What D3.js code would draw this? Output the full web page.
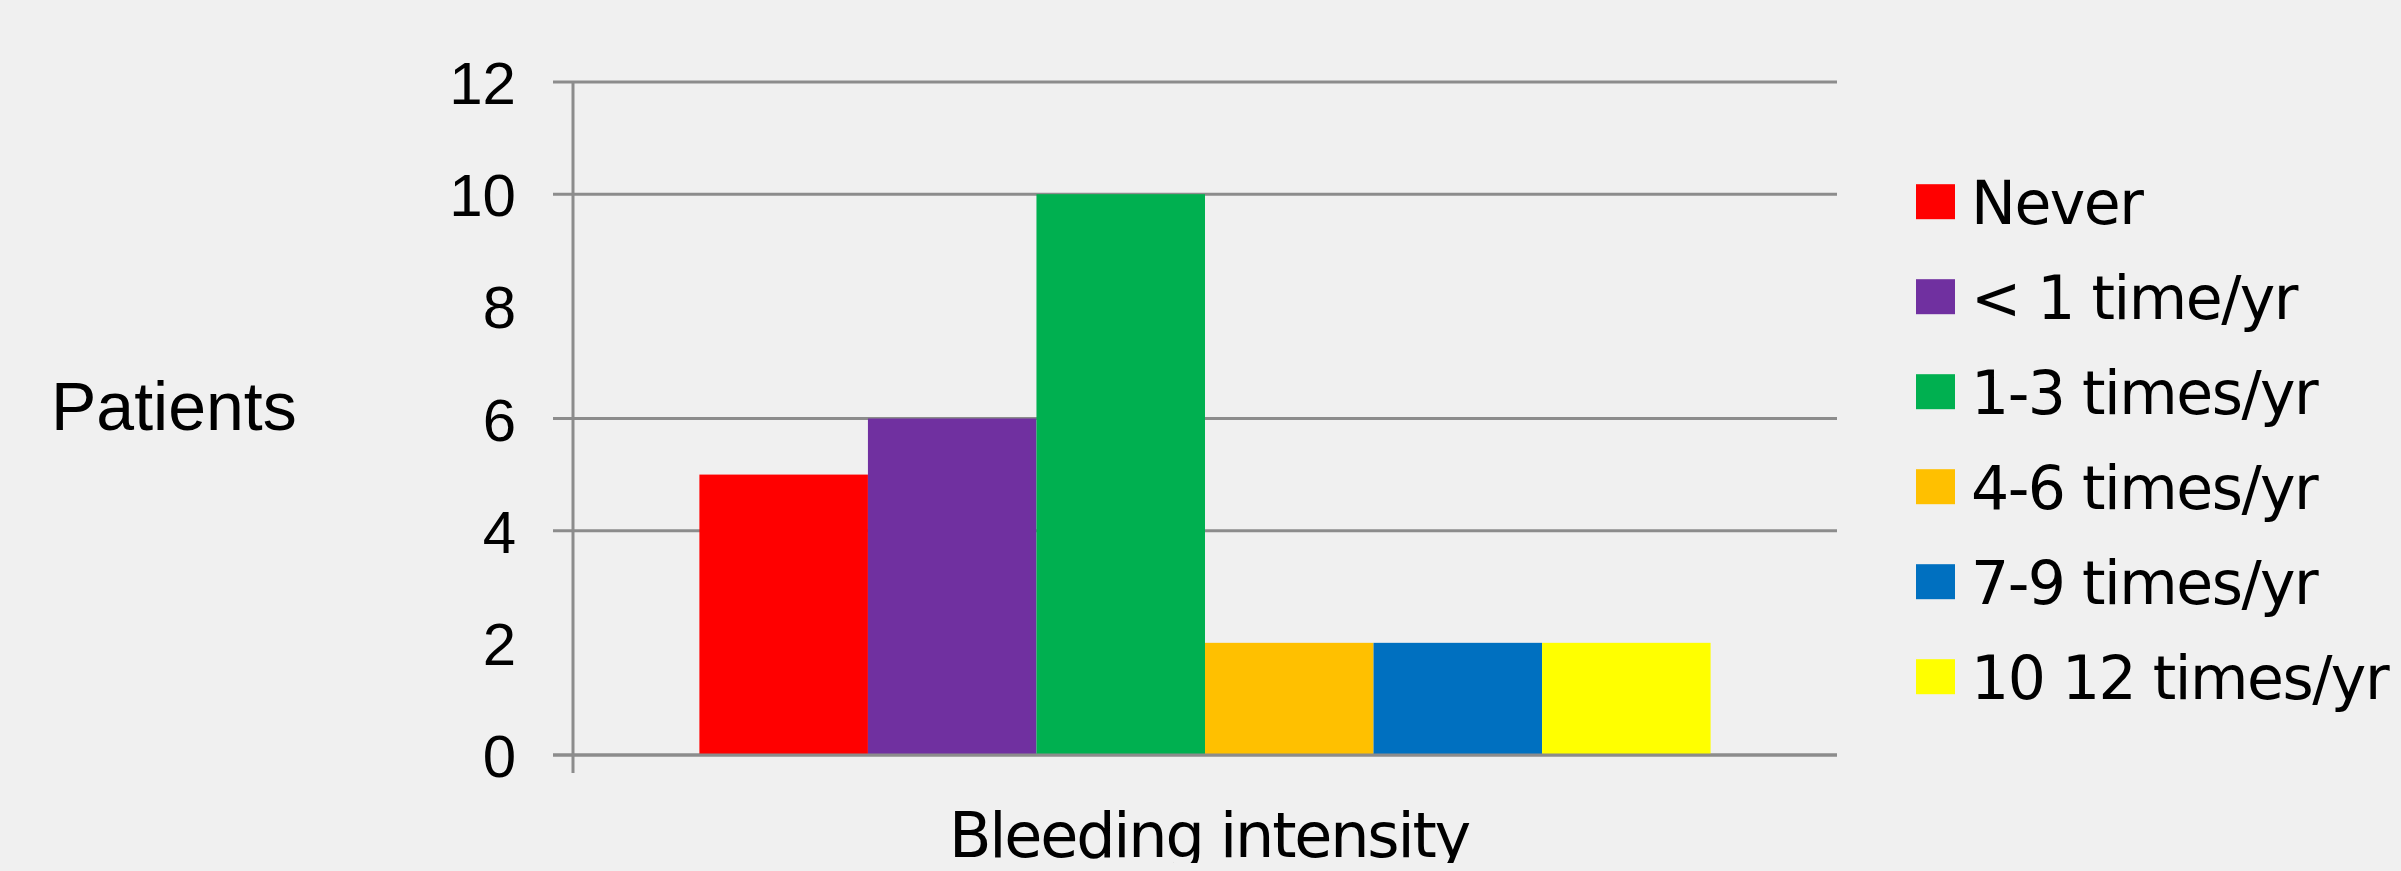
<!DOCTYPE html>
<html>
<head>
<meta charset="utf-8">
<script src="https://cdn.jsdelivr.net/npm/d3@7"></script>
<style>
  html, body { margin: 0; padding: 0; background: #f0f0f0; overflow: hidden; }
  svg { display: block; }
</style>
</head>
<body>
<div id="chart"></div>
<script>
// Bleeding intensity: number of patients per bleeding frequency
const groups = ["Bleeding intensity"];
const seriesNames = ["Never", "< 1 time/yr", "1-3 times/yr", "4-6 times/yr", "7-9 times/yr", "10 12 times/yr"];
const patients = [5, 6, 10, 2, 2, 2];
const seriesColors = ["#ff0000", "#7030a0", "#00b050", "#ffc000", "#0070c0", "#ffff00"];
const yTicks = [0, 2, 4, 6, 8, 10, 12];
const gridValues = [0, 4, 6, 10, 12];
const yTitle = "Patients";

const W = 2401, H = 871;
const plot = { left: 573, right: 1837, top: 82, bottom: 755 };
const gridColor = "#8c8c8c";

const svg = d3.select("#chart").append("svg")
  .attr("width", W).attr("height", H);

svg.append("rect").attr("width", W).attr("height", H).attr("fill", "#f0f0f0");

// the category label is cut at the lower edge of the frame
svg.append("defs").append("clipPath").attr("id", "title-clip")
  .append("rect").attr("x", 0).attr("y", 0).attr("width", W).attr("height", 863);

const y = d3.scaleLinear().domain([0, 12]).range([plot.bottom, plot.top]);

const x0 = d3.scaleBand().domain(groups)
  .range([plot.left, plot.right])
  .paddingInner(0).paddingOuter(0.125);

const x1 = d3.scaleBand().domain(seriesNames)
  .range([0, x0.bandwidth()]).padding(0);

// horizontal gridlines (extend left of the axis as ticks)
svg.append("g").selectAll("line").data(gridValues).join("line")
  .attr("x1", plot.left - 20).attr("x2", plot.right)
  .attr("y1", d => y(d)).attr("y2", d => y(d))
  .attr("stroke", gridColor).attr("stroke-width", 3);

// bars
const barData = seriesNames.map((s, i) => ({ group: groups[0], series: s, value: patients[i], color: seriesColors[i] }));
svg.append("g").selectAll("rect").data(barData).join("rect")
  .attr("x", d => x0(d.group) + x1(d.series))
  .attr("width", x1.bandwidth())
  .attr("y", d => y(d.value))
  .attr("height", d => y(0) - y(d.value))
  .attr("fill", d => d.color);

// baseline over bars
svg.append("line")
  .attr("x1", plot.left - 20).attr("x2", plot.right)
  .attr("y1", y(0)).attr("y2", y(0))
  .attr("stroke", gridColor).attr("stroke-width", 3);

// y axis line
svg.append("line")
  .attr("x1", plot.left).attr("x2", plot.left)
  .attr("y1", y(12)).attr("y2", y(0) + 18)
  .attr("stroke", gridColor).attr("stroke-width", 3);

// y tick labels
const yAxis = d3.axisLeft(y).tickValues(yTicks).tickSize(0).tickPadding(57);
const gy = svg.append("g").attr("transform", `translate(${plot.left},0)`).call(yAxis);
gy.select(".domain").remove();
gy.selectAll("text")
  .attr("font-family", "'Liberation Sans', Arial, sans-serif")
  .attr("font-size", 60)
  .attr("fill", "#000")
  .attr("dy", "0.36em");

// y axis title
svg.append("text")
  .attr("x", 51).attr("y", 430)
  .attr("font-family", "'Liberation Sans', Arial, sans-serif")
  .attr("font-size", 68)
  .attr("fill", "#000")
  .text(yTitle);

// x axis category label
svg.append("text")
  .attr("x", x0(groups[0]) + x0.bandwidth() / 2 + 4)
  .attr("y", 857)
  .attr("text-anchor", "middle")
  .attr("clip-path", "url(#title-clip)")
  .attr("font-family", "'DejaVu Sans', sans-serif")
  .attr("font-size", 62)
  .attr("letter-spacing", -2.2)
  .attr("fill", "#000")
  .text(groups[0]);

// legend
const legend = svg.append("g").attr("transform", "translate(1916,0)");
const rows = legend.selectAll("g").data(barData).join("g")
  .attr("transform", (d, i) => `translate(0,${201.7 + i * 95})`);
rows.append("rect")
  .attr("x", 0).attr("y", -17.5).attr("width", 39).attr("height", 35)
  .attr("fill", d => d.color);
rows.append("text")
  .attr("x", 55).attr("y", 22.5)
  .attr("font-family", "'DejaVu Sans', sans-serif")
  .attr("font-size", 60)
  .attr("letter-spacing", -1.5)
  .attr("fill", "#000")
  .text(d => d.series);
</script>
</body>
</html>
